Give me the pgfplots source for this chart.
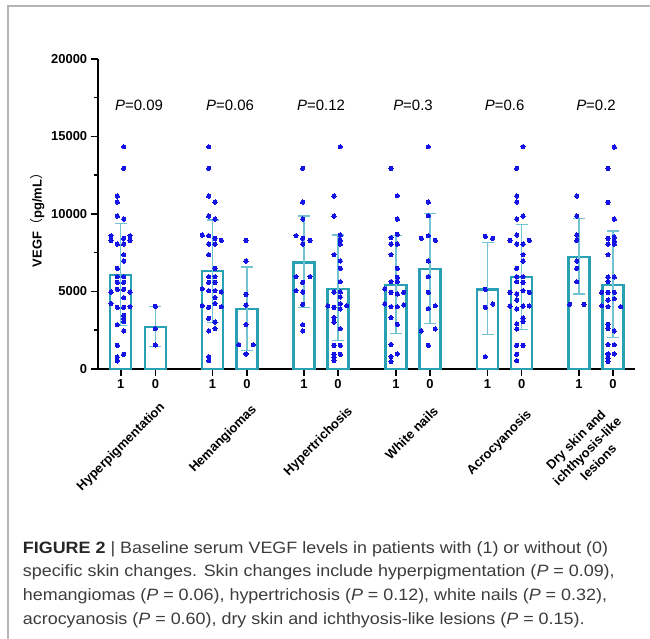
\documentclass[border=0pt]{standalone}
\usepackage{pgfplots}
\pgfplotsset{compat=1.18}
\usepackage{fontspec}
\setmainfont{Liberation Sans}
\newfontfamily\cjk{Noto Sans CJK SC}
\newfontfamily\capfont[FakeStretch=1.09]{Liberation Sans}
\definecolor{barcol}{HTML}{2AA0B5}
\definecolor{errcol}{HTML}{72C3D2}
\definecolor{dotcol}{HTML}{1414E6}
\definecolor{framecol}{HTML}{B4B4B4}
\definecolor{captext}{HTML}{3C3C3C}
\begin{document}
\begin{tikzpicture}
\path[use as bounding box] (0,0) rectangle (650bp,639bp);
\draw[framecol, line width=1.2bp] (8bp,0) -- (8bp,633bp) -- (650bp,633bp);
\begin{axis}[
 at={(97.7bp,270bp)}, anchor=south west, scale only axis,
 width=537.3bp, height=310bp,
 xmin=97.7, xmax=635, ymin=0, ymax=20000,
 axis x line=bottom, axis y line=left,
 axis line style={line width=1.8bp, -},
 clip=false, unbounded coords=jump,
 xtick={120.8,155.4,212.5,247,304,338,396,430,487.5,521.7,579,613},
 xticklabels={1,0,1,0,1,0,1,0,1,0,1,0},
 ytick={0,5000,10000,15000,20000},
 minor ytick={2500,7500,12500,17500},
 tick align=outside,
 major tick length=7bp, minor tick length=4bp,
 tick style={black, line width=1.5bp},
 scaled y ticks=false,
 yticklabel style={/pgf/number format/1000 sep=},
 /pgf/number format/assume math mode=true,
 tick label style={font=\bfseries\fontsize{13}{13}\selectfont, black},
]
% bars (means)
\addplot[ybar, bar width=21, bar shift=0pt, draw=barcol, line width=2.3bp, fill=white] coordinates {
(120.8,6063) (155.4,2730) (212.5,6321) (247,3870) (304,6880) (338,5182)
(396,5418) (430,6450) (487.5,5138) (521.7,5934) (579,7224) (613,5418)};
% SD error bars (mean - SD to mean + SD, with caps)
\addplot[errcol, line width=1.3bp, mark=none] coordinates {
(120.8,2795) (120.8,9395) (120.8,nan) (114.8,9395) (126.8,9395) (126.8,nan) (114.8,2795) (126.8,2795) (126.8,nan)
(155.4,1462) (155.4,4042) (155.4,nan) (149.4,4042) (161.4,4042) (161.4,nan) (149.4,1462) (161.4,1462) (161.4,nan)
(212.5,3010) (212.5,9610) (212.5,nan) (206.5,9610) (218.5,9610) (218.5,nan) (206.5,3010) (218.5,3010) (218.5,nan)
(247,1182) (247,6579) (247,nan) (241,6579) (253,6579) (253,nan) (241,1182) (253,1182) (253,nan)
(304,3956) (304,9868) (304,nan) (298,9868) (310,9868) (310,nan) (298,3956) (310,3956) (310,nan)
(338,1849) (338,8643) (338,nan) (332,8643) (344,8643) (344,nan) (332,1849) (344,1849) (344,nan)
(396,2300) (396,8600) (396,nan) (390,8600) (402,8600) (402,nan) (390,2300) (402,2300) (402,nan)
(430,2930) (430,10050) (430,nan) (424,10050) (436,10050) (436,nan) (424,2930) (436,2930) (436,nan)
(487.5,2236) (487.5,8148) (487.5,nan) (481.5,8148) (493.5,8148) (493.5,nan) (481.5,2236) (493.5,2236) (493.5,nan)
(521.7,2558) (521.7,9331) (521.7,nan) (515.7,9331) (527.7,9331) (527.7,nan) (515.7,2558) (527.7,2558) (527.7,nan)
(579,4837) (579,9696) (579,nan) (573,9696) (585,9696) (585,nan) (573,4837) (585,4837) (585,nan)
(613,2021) (613,8900) (613,nan) (607,8900) (619,8900) (619,nan) (607,2021) (619,2021)};
\pgfplotsset{dots/.style={only marks, mark=*, mark size=2.1bp, mark options={fill=dotcol, draw=dotcol, line width=0pt}}}
% Hyperpigmentation 1
\addplot[dots] coordinates {
(123.7,14340) (123.7,12943) (117.3,11158) (117.3,10771) (117.3,9868) (123.7,9675)
(111,8600) (130,8600) (123.7,8428) (111,8299) (130,8299) (117.3,8062) (123.7,8062)
(123.7,7375) (123.7,6966) (117.3,6493) (117.3,5955) (123.7,5955) (117.3,5590) (123.7,5590)
(117.3,5138) (123.7,5138) (111,4966) (130,4966) (123.7,4601) (111,4214) (117.3,3977)
(123.7,3977) (130,4020) (123.7,3461) (123.7,3246) (123.7,3053) (117.3,2859) (123.7,2451)
(117.3,1526) (123.7,946) (117.3,774) (117.3,516)};
% Hyperpigmentation 0
\addplot[dots] coordinates {(155.4,4042) (155.4,2602) (155.4,1548)};
% Hemangiomas 1
\addplot[dots] coordinates {
(208.7,14340) (208.7,12943) (208.7,11158) (215,10771) (208.7,9868) (215,9675)
(202.3,8643) (208.7,8600) (215,8428) (221.3,8299) (208.7,8062) (215,8062) (208.7,7375)
(215,6493) (208.7,5955) (215,5955) (208.7,5590) (215,5590) (202.3,5181) (208.7,5052)
(215,5052) (221.3,4966) (215,4601) (202.3,4085) (208.7,3977) (215,4214) (221.3,4020)
(208.7,3268) (215,3031) (215,2601) (208.7,2451) (208.7,795) (208.7,537)};
% Hemangiomas 0
\addplot[dots] coordinates {(246,8299) (246,6966) (246,4816) (246,4128) (246,2860) (238.7,1570) (253.3,1570) (246,968)};
% Hypertrichosis 1
\addplot[dots] coordinates {
(302.7,12943) (302.7,10771) (302.7,9675) (296,8600) (302.7,8428) (310,8299) (302.7,8062)
(296,5955) (310,5955) (302.7,5590) (296,5052) (302.7,4966) (302.7,4171) (302.7,2860) (302.7,2451)};
% Hypertrichosis 0
\addplot[dots] coordinates {
(340.3,14340) (334,11158) (334,9868) (340.3,8643) (340.3,8299) (340.3,8062) (334,7375)
(340.3,6966) (340.3,6493) (340.3,5633) (334,4966) (340.3,4966) (340.3,4644) (327.7,4064)
(334,3977) (340.3,4214) (346.7,4085) (340.3,3870) (334,3311) (334,3031) (340.3,2601)
(334,1526) (340.3,1526) (334,946) (340.3,946) (334,774) (334,537)};
% White nails 1
\addplot[dots] coordinates {
(391,12943) (397.3,11180) (397.3,9675) (397.3,8686) (391,8471) (391,8062) (397.3,8062)
(391,7375) (397.3,6493) (397.3,5913) (391,5633) (397.3,5633) (384.7,5160) (391,4945)
(397.3,4837) (403.7,4945) (384.7,4193) (391,4020) (397.3,4020) (403.7,4128) (391,3311)
(397.3,2881) (391,1570) (397.3,968) (391,795) (391,473)};
% White nails 0
\addplot[dots] coordinates {
(428.3,14340) (428.3,10771) (428.3,9890) (421.3,8428) (428.3,8600) (435.3,8299) (428.3,6966)
(428.3,5955) (428.3,4945) (435.3,4085) (428.3,3892) (435.3,2580) (421.3,2451) (428.3,1526)};
% Acrocyanosis 1
\addplot[dots] coordinates {(485.3,8557) (492.7,8428) (485.3,5138) (485.3,3977) (492.7,4192) (485.3,795)};
% Acrocyanosis 0
\addplot[dots] coordinates {
(523,14340) (516.7,12943) (516.7,11158) (516.7,10771) (523,9868) (516.7,9675) (516.7,8643)
(510,8299) (529.3,8299) (516.7,8062) (523,8062) (523,7375) (523,6966) (516.7,6493)
(516.7,5955) (523,5955) (516.7,5633) (523,5590) (510,4945) (516.7,4837) (523,5052)
(529.3,4945) (516.7,4450) (510,4064) (523,4064) (529.3,4064) (516.7,3870) (523,3290)
(523,3053) (516.7,2903) (516.7,2580) (516.7,1526) (523,1526) (516.7,946) (516.7,537)};
% Dry skin 1
\addplot[dots] coordinates {(576.7,11158) (576.7,9868) (576.7,8643) (576.7,8299) (576.7,6966) (576.7,6493) (576.7,5633) (569.7,4171) (584,4171)};
% Dry skin 0
\addplot[dots] coordinates {
(614.3,14319) (608,12943) (608,10750) (614.3,9675) (608,8428) (614.3,8514) (608,8062)
(614.3,8256) (614.3,8062) (608,7375) (608,5934) (614.3,5934) (608,5633) (601.7,4945)
(608,4945) (614.3,4945) (608,4450) (614.3,4536) (601.7,4085) (608,4020) (620.7,4020)
(608,2881) (608,2602) (614.3,2451) (608,1570) (614.3,1570) (608,968) (614.3,968)
(608,688) (608,473)};
% P values
\begin{scope}[every node/.style={font=\fontsize{15}{15}\selectfont, black}]
\node at (axis cs:139,17000) {\textit{P}=0.09};
\node at (axis cs:230,17000) {\textit{P}=0.06};
\node at (axis cs:321,17000) {\textit{P}=0.12};
\node at (axis cs:413,17000) {\textit{P}=0.3};
\node at (axis cs:504.6,17000) {\textit{P}=0.6};
\node at (axis cs:596,17000) {\textit{P}=0.2};
\end{scope}
% category labels
\begin{scope}[every node/.style={rotate=45, inner sep=0pt, font=\bfseries\fontsize{13}{16}\selectfont, black}]
\node[anchor=north east] at (axis cs:158.7,-2065) {Hyperpigmentation};
\node[anchor=north east] at (axis cs:250.3,-2213) {Hemangiomas};
\node[anchor=north east] at (axis cs:346.3,-2323) {Hypertrichosis};
\node[anchor=north east] at (axis cs:432.3,-2323) {White nails};
\node[anchor=north east] at (axis cs:525.3,-2535) {Acrocyanosis};
\node[anchor=center, align=center] at (axis cs:587,-5290) {Dry skin and\\ichthyosis-like\\lesions};
\end{scope}
\end{axis}
% y label
\node[rotate=90, font=\bfseries\fontsize{13}{13}\selectfont] at (37.5bp,422bp) {VEGF{\mdseries\cjk （}pg/mL{\mdseries\cjk ）}};
% caption
\begin{scope}[every node/.style={anchor=base west, inner sep=0pt, font=\capfont\fontsize{16.5}{16.5}\selectfont, text=captext}]
\node at (22.7bp,85.7bp) {{\color{black!85}\textbf{FIGURE 2}} | Baseline serum VEGF levels in patients with (1) or without (0)};
\node at (22.7bp,62bp) {specific skin changes. Skin changes include hyperpigmentation (\textit{P} = 0.09),};
\node at (22.7bp,38.5bp) {hemangiomas (\textit{P} = 0.06), hypertrichosis (\textit{P} = 0.12), white nails (\textit{P} = 0.32),};
\node at (22.7bp,15bp) {acrocyanosis (\textit{P} = 0.60), dry skin and ichthyosis-like lesions (\textit{P} = 0.15).};
\end{scope}
\end{tikzpicture}
\end{document}
